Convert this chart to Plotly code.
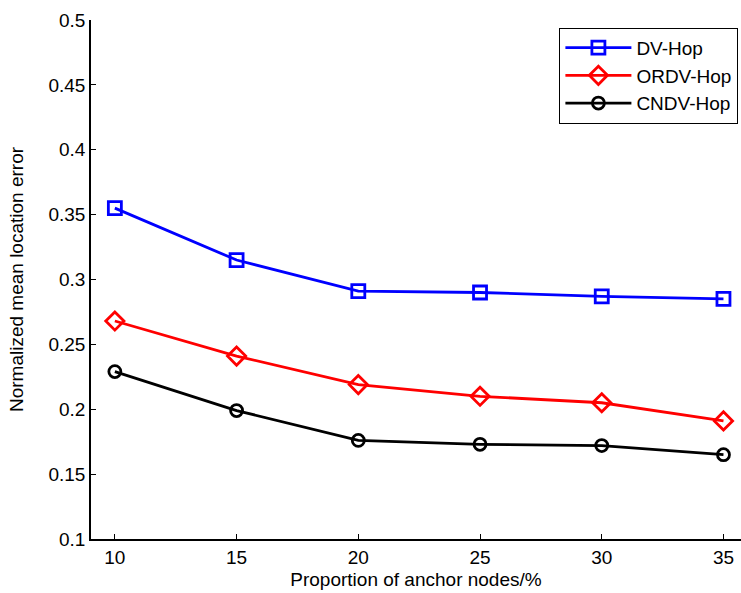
import plotly.graph_objects as go

x_vals = [10, 15, 20, 25, 30, 35]
dv_hop = [0.355, 0.315, 0.291, 0.290, 0.287, 0.285]
ordv_hop = [0.268, 0.241, 0.219, 0.210, 0.205, 0.191]
cndv_hop = [0.229, 0.199, 0.176, 0.173, 0.172, 0.165]
y_ticks = [0.1, 0.15, 0.2, 0.25, 0.3, 0.35, 0.4, 0.45, 0.5]
y_tick_labels = ["0.1", "0.15", "0.2", "0.25", "0.3", "0.35", "0.4", "0.45", "0.5"]

font_family = "Liberation Sans, Arial, sans-serif"
fs = 19

fig = go.Figure()
fig.add_trace(go.Scatter(x=x_vals, y=dv_hop, name="DV-Hop", mode="lines+markers",
                         line=dict(color="#0000ff", width=2.8),
                         marker=dict(symbol="square-open", size=13, color="#0000ff",
                                     line=dict(width=2.8, color="#0000ff"))))
fig.add_trace(go.Scatter(x=x_vals, y=ordv_hop, name="ORDV-Hop", mode="lines+markers",
                         line=dict(color="#ff0000", width=2.8),
                         marker=dict(symbol="diamond-open", size=14, color="#ff0000",
                                     line=dict(width=2.8, color="#ff0000"))))
fig.add_trace(go.Scatter(x=x_vals, y=cndv_hop, name="CNDV-Hop", mode="lines+markers",
                         line=dict(color="#000000", width=2.8),
                         marker=dict(symbol="circle-open", size=12, color="#000000",
                                     line=dict(width=2.8, color="#000000"))))

fig.update_layout(
    width=741, height=593,
    margin=dict(l=91, r=0, t=20, b=54),
    paper_bgcolor="white", plot_bgcolor="white",
    font=dict(family=font_family, size=fs, color="#000000"),
    showlegend=True,
    legend=dict(x=0.996, y=0.985, xanchor="right", yanchor="top",
                bordercolor="#000000", borderwidth=1, bgcolor="white",
                font=dict(size=fs, family=font_family), itemwidth=66,
                tracegroupgap=0),
    xaxis=dict(range=[9.02, 35.72], tickvals=x_vals, ticktext=[str(v) for v in x_vals],
               showline=True, linecolor="#000000", linewidth=1.5,
               ticks="inside", ticklen=5, tickcolor="#000000", showgrid=False, zeroline=False,
               title=dict(text="Proportion of anchor nodes/%", font=dict(size=fs), standoff=6),
               tickfont=dict(size=fs)),
    yaxis=dict(range=[0.1, 0.5], tickvals=y_ticks, ticktext=y_tick_labels,
               showline=True, linecolor="#000000", linewidth=1.5,
               ticks="inside", ticklen=5, tickcolor="#000000", showgrid=False, zeroline=False,
               title=dict(text="Normalized mean location error", font=dict(size=fs), standoff=20),
               tickfont=dict(size=fs)),
)

fig.write_html("out.html")
